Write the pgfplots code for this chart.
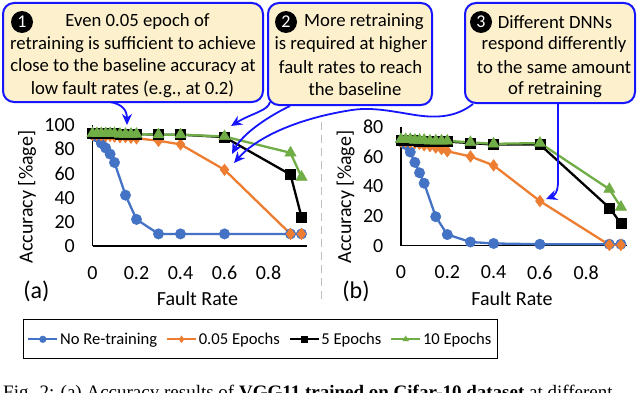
\documentclass[border=0pt]{standalone}
\usepackage{pgfplots}
\pgfplotsset{compat=1.18}
\usepackage{fontspec}
\setmainfont{Carlito}
\newfontfamily\capfont{Liberation Serif}
\usetikzlibrary{arrows.meta}

\definecolor{cblue}{HTML}{4472C4}
\definecolor{corange}{HTML}{ED7D31}
\definecolor{cgreen}{HTML}{70AD47}
\definecolor{callfill}{HTML}{FDF0CC}
\definecolor{callline}{HTML}{1515FF}
\definecolor{sepgray}{HTML}{BFBFBF}

\pgfplotsset{
  panel/.style={
    scale only axis, anchor=south west, clip=false,
    xmin=0, xmax=0.975, ymin=0,
    axis x line=bottom, axis y line=left,
    axis line style={-, black, line width=1.3pt},
    major tick length=0pt,
    xtick={0,0.2,0.4,0.6,0.8},
    /pgf/number format/assume math mode=true,
    tick label style={font=\fontsize{20}{24}\selectfont},
    xticklabel style={inner sep=0pt, anchor=north, yshift=-20pt},
    yticklabel style={inner sep=0pt, anchor=east, xshift=-17.5pt},
  },
  s1/.style={cblue, line width=2.3pt, mark=*, mark size=5.2pt, mark options={solid, line width=0.5pt}},
  s2/.style={corange, line width=2.3pt, mark=diamond*, mark size=5.8pt, mark options={solid, line width=0.5pt}},
  s3/.style={black, line width=2.3pt, mark=square*, mark size=5pt, mark options={solid, line width=0.5pt}},
  s4/.style={cgreen, line width=2.3pt, mark=triangle*, mark size=6.5pt, mark options={solid, line width=0.5pt}},
}

\begin{document}
\begin{tikzpicture}
\useasboundingbox (0pt,0pt) rectangle (640pt,392pt);
\clip (0pt,0pt) rectangle (640pt,392pt);

% ---- panel (a)
\begin{axis}[panel, at={(92.5pt,146pt)}, width=214.5pt, height=121pt,
  ymax=100, ytick={0,20,...,100},
  legend columns=4,
  legend style={at={(0.783,-0.771)}, anchor=center, draw=black, line width=1pt,
    font=\fontsize{16.6}{19}\selectfont, inner xsep=4pt, inner ysep=9pt,
    nodes={inner xsep=2pt, inner ysep=4pt},
    /tikz/every even column/.append style={column sep=7pt}},
  legend image code/.code={\draw[mark repeat=2, mark phase=2, #1, line width=1.6pt, mark size=3.3pt]
    plot coordinates {(0pt,0pt) (14.5pt,0pt) (29pt,0pt)};},
]
\addplot[s1] coordinates {(0,92) (0.02,90) (0.04,85) (0.06,81) (0.08,76) (0.1,69)
  (0.15,42) (0.2,22) (0.3,10) (0.4,10) (0.6,10) (0.9,10) (0.95,10)};
\addlegendentry{No Re-training}
\addplot[s2] coordinates {(0,92) (0.02,92) (0.04,91.5) (0.06,91) (0.08,91) (0.1,90.5)
  (0.125,90) (0.15,90) (0.175,89.5) (0.2,89) (0.3,87) (0.4,84) (0.6,63) (0.9,10) (0.95,10)};
\addlegendentry{0.05 Epochs}
\addplot[s3] coordinates {(0,93) (0.02,93) (0.04,93) (0.06,93) (0.08,93) (0.1,93)
  (0.125,92.5) (0.15,92.5) (0.175,92.5) (0.2,92.5) (0.3,92) (0.4,92) (0.6,90) (0.9,59) (0.95,24)};
\addlegendentry{5 Epochs}
\addplot[s4] coordinates {(0,93) (0.02,93) (0.04,93) (0.06,93) (0.08,93) (0.1,93)
  (0.125,92.5) (0.15,92.5) (0.175,92.5) (0.2,92.5) (0.3,92) (0.4,92) (0.6,90.5) (0.9,77) (0.95,57)};
\addlegendentry{10 Epochs}
\end{axis}

% ---- panel (b)
\begin{axis}[panel, at={(401pt,146.3pt)}, width=225.7pt, height=119pt,
  ymax=80, ytick={0,20,...,80}]
\addplot[s1] coordinates {(0,70) (0.02,68) (0.04,63) (0.06,56) (0.08,49) (0.1,42)
  (0.15,19.5) (0.2,7.5) (0.3,2.5) (0.4,1.5) (0.6,1) (0.9,1) (0.95,1)};
\addplot[s2] coordinates {(0,70) (0.02,70) (0.04,69.5) (0.06,69) (0.08,68.5) (0.1,67.5)
  (0.125,67) (0.15,66) (0.175,65) (0.2,63.5) (0.3,60) (0.4,54) (0.6,30) (0.9,0.5) (0.95,0.5)};
\addplot[s3] coordinates {(0,71) (0.02,71) (0.04,71) (0.06,71) (0.08,70.5) (0.1,70.5)
  (0.125,70.5) (0.15,70) (0.175,70) (0.2,70) (0.3,69) (0.4,68) (0.6,68) (0.9,25.5) (0.95,15)};
\addplot[s4] coordinates {(0,71.5) (0.02,71.5) (0.04,71.5) (0.06,71) (0.08,71) (0.1,71)
  (0.125,70.5) (0.15,70.5) (0.175,70.5) (0.2,70.5) (0.3,69.5) (0.4,68.5) (0.6,69) (0.9,38) (0.95,26)};
\end{axis}

% ---- annotations, in picture pixels measured from the top
\begin{scope}[x=1pt, y=-1pt, yshift=392pt]
  \draw[sepgray, line width=1.5pt, dash pattern=on 8pt off 5pt] (321.7,122) -- (321.7,302);

  \node[font=\fontsize{20}{24}\selectfont] at (197.5,299) {Fault Rate};
  \node[font=\fontsize{20}{24}\selectfont] at (512,299) {Fault Rate};
  \node[font=\fontsize{20}{24}\selectfont, rotate=90] at (27,197) {Accuracy [\%age]};
  \node[font=\fontsize{20}{24}\selectfont, rotate=90] at (345.5,197) {Accuracy [\%age]};
  \node[font=\fontsize{24}{28}\selectfont] at (36.5,291.5) {(a)};
  \node[font=\fontsize{24}{28}\selectfont] at (356,291.5) {(b)};

  % callout boxes
  \tikzset{box/.style={draw=callline, fill=callfill, line width=2pt, rounded corners=11pt},
           num/.style={circle, fill=black, minimum size=22pt, inner sep=0pt, text=white,
                       font=\fontsize{18}{20}\selectfont},
           ln/.style={font=\fontsize{18.7}{22}\selectfont, inner sep=0pt},
           arr/.style={callline, line width=1.8pt, -{Stealth[length=11pt, width=10pt]}}}
  \draw[box] (3,3) rectangle (263,102);
  \draw[box] (268,3) rectangle (432,105);
  \draw[box] (465,3) rectangle (635,103);

  \node[num] at (22,22) {1};
  \node[ln] at (137.5,22) {Even 0.05 epoch of};
  \node[ln] at (133,44.5) {retraining is sufficient to achieve};
  \node[ln] at (133,67) {close to the baseline accuracy at};
  \node[ln] at (132.5,89) {low fault rates (e.g., at 0.2)};

  \node[num] at (286,22) {2};
  \node[ln] at (364,22) {More retraining};
  \node[ln] at (351,44.5) {is required at higher};
  \node[ln] at (350.5,67) {fault rates to reach};
  \node[ln] at (355,89) {the baseline};

  \node[num] at (481,22) {3};
  \node[ln] at (555,22) {Different DNNs};
  \node[ln] at (554,45) {respond differently};
  \node[ln] at (554,67.5) {to the same amount};
  \node[ln] at (555,89.5) {of retraining};

  % arrows
  \draw[arr] (110,102) .. controls (122,104) and (127,110) .. (127,125);
  \draw[arr] (270,102) .. controls (268,111) and (252,113) .. (231,126);
  \draw[arr] (290,106) .. controls (265,118) and (242,135) .. (232,154);
  \draw[arr] (473,104) .. controls (455,118) and (435,118) .. (415,115)
             .. controls (390,111) and (372,107) .. (352,110)
             .. controls (300,118) and (258,136) .. (234,163);
  \draw[arr] (558,104) -- (558,182) .. controls (558,192) and (554,196) .. (546,199);

  % cut-off caption line
  \node[anchor=base west, inner sep=0pt, font=\capfont\fontsize{19}{22}\selectfont]
    at (3,398) {Fig. 2: (a) Accuracy results of \textbf{VGG11 trained on Cifar-10 dataset} at different};
\end{scope}
\end{tikzpicture}
\end{document}
